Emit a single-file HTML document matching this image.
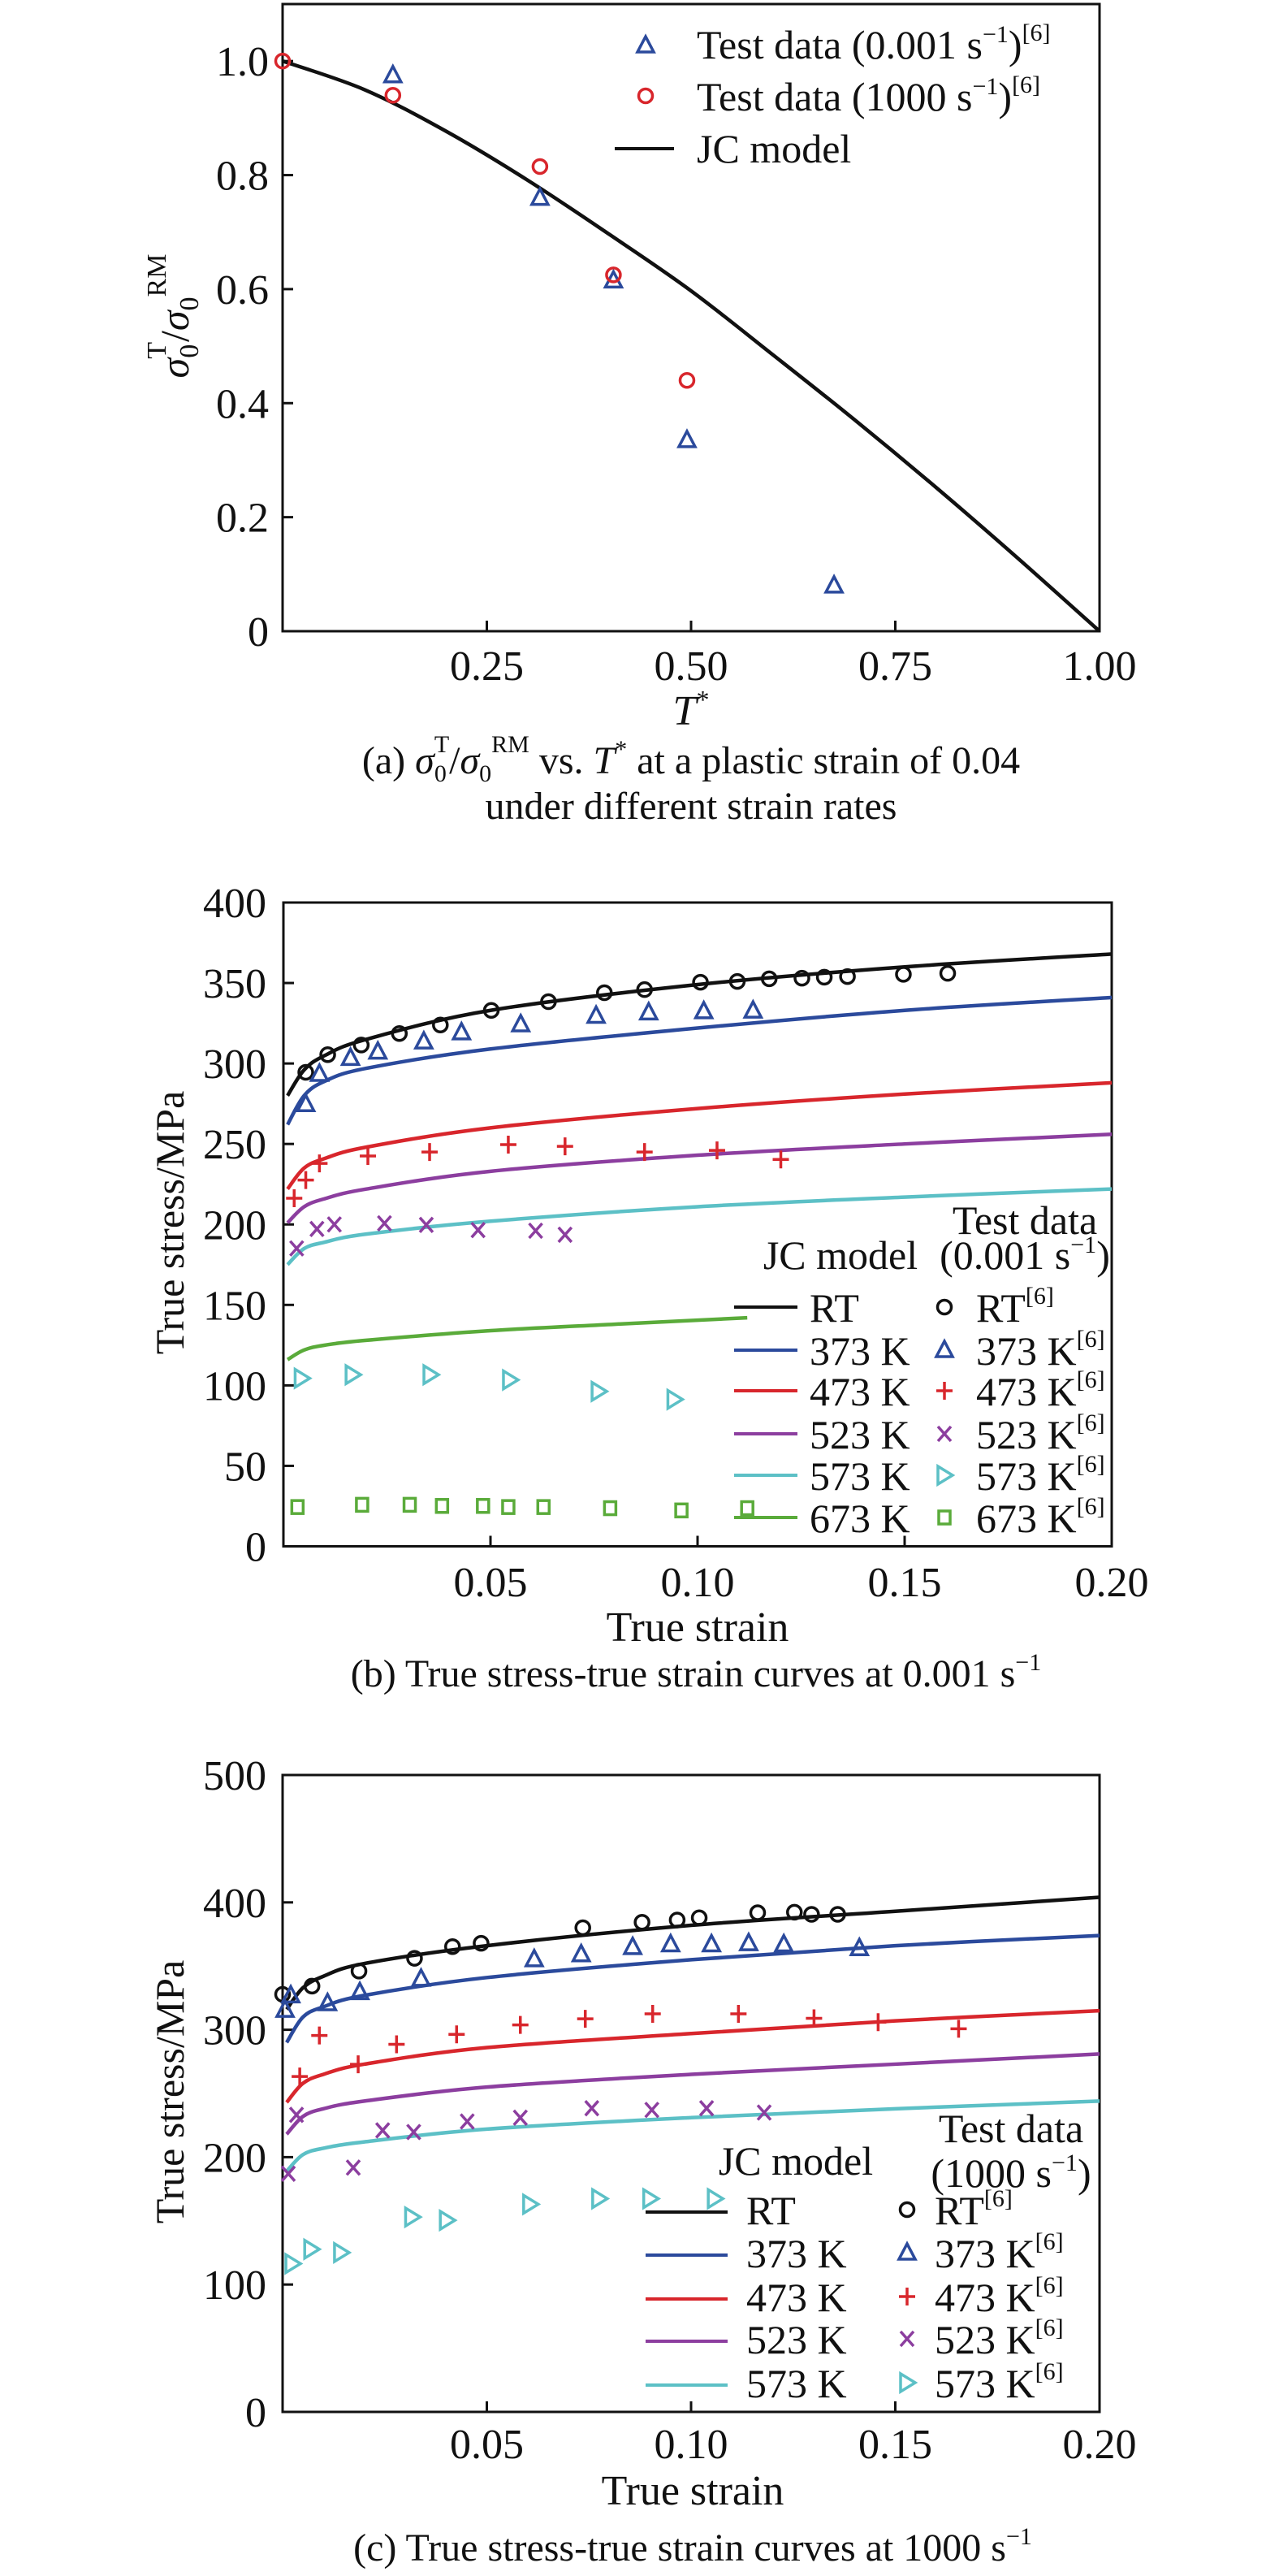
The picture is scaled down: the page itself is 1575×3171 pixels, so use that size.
<!DOCTYPE html>
<html>
<head>
<meta charset="utf-8">
<style>
html,body{margin:0;padding:0;background:#fff;}
svg{display:block;font-family:"Liberation Serif",serif;}
</style>
</head>
<body>
<svg id="fig" width="1575" height="3171" viewBox="0 0 1575 3171" xmlns="http://www.w3.org/2000/svg"></svg>
<script>
// ---------- Chart (a) data ----------
const aTri_T = [0.135, 0.315, 0.405, 0.495, 0.675];
const aTri_V = [0.975, 0.76, 0.615, 0.335, 0.08];
const aCirc_T = [0, 0.135, 0.315, 0.405, 0.495];
const aCirc_V = [1.0, 0.94, 0.815, 0.625, 0.44];
const aJC_T = [0, 0.1, 0.2, 0.3, 0.4, 0.5, 0.6, 0.7, 0.8, 0.9, 1.0];
const aJC_V = [1.0, 0.95, 0.877, 0.791, 0.696, 0.597, 0.485, 0.371, 0.252, 0.128, 0];
const aXTicks = [0.25, 0.5, 0.75, 1.0];
const aXTickLabels = ["0.25", "0.50", "0.75", "1.00"];
const aYTicks = [0, 0.2, 0.4, 0.6, 0.8, 1.0];
const aYTickLabels = ["0", "0.2", "0.4", "0.6", "0.8", "1.0"];

// ---------- Chart (b) data ----------
const bCurveX = [0.001, 0.005, 0.01, 0.02, 0.05, 0.1, 0.15, 0.2];
const bRT_curve = [280, 296, 305, 315, 333, 349, 360, 368];
const b373_curve = [262, 280, 289, 297, 309, 322, 333, 341];
const b473_curve = [222, 235, 241, 248, 260, 272, 281, 288];
const b523_curve = [201, 211, 216, 222, 233, 243, 250, 256];
const b573_curve = [175, 185, 189, 194, 202, 211, 217, 222];
const b673_curveX = [0.001, 0.005, 0.01, 0.02, 0.05, 0.08, 0.112];
const b673_curve = [116, 122, 125, 128, 134, 138, 142];
const bRT_x = [0.0054,0.0107,0.0188,0.028,0.0379,0.0502,0.064,0.0775,0.0872,0.1007,0.1096,0.1173,0.1252,0.1306,0.1362,0.1497,0.1604];
const bRT_y = [294.5,305.5,311.5,318.6,323.9,333,338.4,344,345.9,350.5,351,352.6,353,353.6,354,355.4,356];
const b373_x = [0.0054,0.0087,0.0162,0.0228,0.0339,0.043,0.0573,0.0755,0.0882,0.1015,0.1134];
const b373_y = [274.7,293.5,303.4,307.3,313.6,319.3,324.3,329.6,331.7,332.4,332.8];
const b473_x = [0.0026,0.0054,0.0087,0.0204,0.0353,0.0543,0.068,0.0872,0.1047,0.1201];
const b473_y = [216.3,227.6,237.9,242.5,245,249.6,248.5,245,246,240.4];
const b523_x = [0.0032,0.0081,0.0123,0.0244,0.0345,0.047,0.0609,0.068];
const b523_y = [185.1,197.2,200,200.7,199.7,196.5,196.1,193.6];
const b573_x = [0.0044,0.0167,0.0355,0.0547,0.0761,0.0944];
const b573_y = [104.4,106.6,106.6,103.4,96.3,91.3];
const b673_x = [0.0034,0.019,0.0305,0.0383,0.0482,0.0543,0.0628,0.0789,0.0961,0.112];
const b673_y = [24.4,25.8,25.8,25.1,25.1,24.4,24.4,23.7,22.3,23.7];
const bXTicks = [0.05, 0.1, 0.15, 0.2];
const bXTickLabels = ["0.05", "0.10", "0.15", "0.20"];
const bYTicks = [0, 50, 100, 150, 200, 250, 300, 350, 400];

// ---------- Chart (c) data ----------
const cCurveX = [0.001, 0.005, 0.01, 0.02, 0.05, 0.1, 0.15, 0.2];
const cRT_curve = [316, 333, 342, 352, 366, 382, 393, 404];
const c373_curve = [290, 310, 318, 327, 341, 355, 366, 374];
const c473_curve = [243, 258, 265, 273, 286, 297, 307, 315];
const c523_curve = [218, 232, 238, 244, 255, 265, 273, 281];
const c573_curve = [189, 202, 207, 212, 222, 231, 238, 244];
const cRT_x = [0,0.0072,0.0187,0.0323,0.0416,0.0486,0.0735,0.088,0.0966,0.102,0.1163,0.1253,0.1295,0.1359];
const cRT_y = [327.8,334.3,346.1,356.1,365.3,367.9,380.1,384.4,386.2,387.9,391.9,392.3,390.6,390.6];
const c373_x = [0.0006,0.002,0.011,0.0189,0.0339,0.0616,0.0731,0.0857,0.095,0.105,0.1141,0.1227,0.1412];
const c373_y = [315.6,326.9,320.8,329.5,340,355.3,359.2,364.9,367,367,367.9,367,364];
const c473_x = [0.0042,0.009,0.0185,0.0279,0.0426,0.0582,0.0741,0.0906,0.1116,0.1301,0.1458,0.1655];
const c473_y = [263.3,295.5,272.9,288.6,296.4,303.8,308.6,312.5,312.5,309,306,300.8];
const c523_x = [0.0014,0.0034,0.0173,0.0245,0.0321,0.0452,0.0582,0.0757,0.0904,0.1038,0.1179];
const c523_y = [187,233.2,191.8,221,219.7,228,231,238.4,237.1,238.4,235];
const c573_x = [0.0024,0.007,0.0143,0.0317,0.0402,0.0606,0.0775,0.09,0.1058];
const c573_y = [116.4,127.7,125.1,153,150.4,163,167.4,167.4,167.4];
const cXTicks = [0.05, 0.1, 0.15, 0.2];
const cXTickLabels = ["0.05", "0.10", "0.15", "0.20"];
const cYTicks = [0, 100, 200, 300, 400, 500];

const NS = "http://www.w3.org/2000/svg";
const svg = document.getElementById("fig");
const COL = {k:"#111", blue:"#2b4a9c", red:"#d8262c", purple:"#8c3e9f", cyan:"#5cc0c6", green:"#5aab3a"};

function mk(tag, parent, name, inter) {
  const e = document.createElementNS(NS, tag);
  
  
  parent.appendChild(e);
  return e;
}
function text(parent, name, x, y, str, size, anchor) {
  const t = mk('text', parent, name, false);
  t.setAttribute('x', x); t.setAttribute('y', y);
  t.setAttribute('font-size', size);
  t.setAttribute('text-anchor', anchor || 'start');
  t.setAttribute('fill', '#111');
  t.innerHTML = str;
  return t;
}
function scale(d0, d1, p0, p1) { return v => p0 + (v - d0) / (d1 - d0) * (p1 - p0); }

function axes(g, cfg) {
  const sx = scale(cfg.xmin, cfg.xmax, cfg.x0, cfg.x1);
  const sy = scale(cfg.ymin, cfg.ymax, cfg.yb, cfg.yt);
  const frame = mk('rect', g, 'plot-frame', false);
  frame.setAttribute('x', cfg.x0); frame.setAttribute('y', cfg.yt);
  frame.setAttribute('width', cfg.x1 - cfg.x0); frame.setAttribute('height', cfg.yb - cfg.yt);
  frame.setAttribute('fill', 'none'); frame.setAttribute('stroke', '#111'); frame.setAttribute('stroke-width', 3);
  cfg.xticks.forEach((v, i) => {
    const l = mk('line', g, 'x-tick', false);
    l.setAttribute('x1', sx(v)); l.setAttribute('x2', sx(v));
    l.setAttribute('y1', cfg.yb); l.setAttribute('y2', cfg.yb - 13);
    l.setAttribute('stroke', '#111'); l.setAttribute('stroke-width', 3);
    text(g, 'x-tick-label', sx(v), cfg.xlabY, cfg.xlabels[i], 52, 'middle');
  });
  cfg.yticks.forEach((v, i) => {
    const l = mk('line', g, 'y-tick', false);
    l.setAttribute('x1', cfg.x0); l.setAttribute('x2', cfg.x0 + 13);
    l.setAttribute('y1', sy(v)); l.setAttribute('y2', sy(v));
    l.setAttribute('stroke', '#111'); l.setAttribute('stroke-width', 3);
    text(g, 'y-tick-label', cfg.ylabX, sy(v) + 18, cfg.ylabels[i], 52, 'end');
  });
  return {sx, sy};
}

function smoothPath(pts) {
  let d = `M${pts[0][0]},${pts[0][1]}`;
  for (let i = 0; i < pts.length - 1; i++) {
    const p0 = pts[Math.max(0, i - 1)], p1 = pts[i], p2 = pts[i + 1], p3 = pts[Math.min(pts.length - 1, i + 2)];
    const c1x = p1[0] + (p2[0] - p0[0]) / 6, c1y = p1[1] + (p2[1] - p0[1]) / 6;
    const c2x = p2[0] - (p3[0] - p1[0]) / 6, c2y = p2[1] - (p3[1] - p1[1]) / 6;
    d += ` C${c1x},${c1y} ${c2x},${c2y} ${p2[0]},${p2[1]}`;
  }
  return d;
}
function curve(g, name, xs, ys, sx, sy, color) {
  const p = mk('path', g, name, false);
  p.setAttribute('d', smoothPath(xs.map((x, i) => [sx(x), sy(ys[i])])));
  p.setAttribute('fill', 'none'); p.setAttribute('stroke', color); p.setAttribute('stroke-width', 4.5);
  return p;
}
function marker(g, name, type, cx, cy, color) {
  let e;
  if (type === 'circle') {
    e = mk('circle', g, name, false);
    e.setAttribute('cx', cx); e.setAttribute('cy', cy); e.setAttribute('r', 8.5);
  } else if (type === 'tri') {
    e = mk('polygon', g, name, false);
    e.setAttribute('points', `${cx},${cy-11} ${cx+10},${cy+8} ${cx-10},${cy+8}`);
  } else if (type === 'rtri') {
    e = mk('polygon', g, name, false);
    e.setAttribute('points', `${cx-8},${cy-11} ${cx+10},${cy} ${cx-8},${cy+11}`);
  } else if (type === 'square') {
    e = mk('rect', g, name, false);
    e.setAttribute('x', cx - 7); e.setAttribute('y', cy - 8); e.setAttribute('width', 14); e.setAttribute('height', 16);
  } else if (type === 'plus') {
    e = mk('path', g, name, false);
    e.setAttribute('d', `M${cx-10},${cy}H${cx+10}M${cx},${cy-11}V${cy+11}`);
  } else if (type === 'x') {
    e = mk('path', g, name, false);
    e.setAttribute('d', `M${cx-8},${cy-9}L${cx+8},${cy+9}M${cx+8},${cy-9}L${cx-8},${cy+9}`);
  }
  e.setAttribute('fill', 'none'); e.setAttribute('stroke', color); e.setAttribute('stroke-width', 3.5);
  return e;
}
function scatter(g, name, type, xs, ys, sx, sy, color) {
  xs.forEach((x, i) => marker(g, name, type, sx(x), sy(ys[i]), color));
}
function legLine(g, name, x1, x2, y, color) {
  const l = mk('line', g, name, false);
  l.setAttribute('x1', x1); l.setAttribute('x2', x2); l.setAttribute('y1', y); l.setAttribute('y2', y);
  l.setAttribute('stroke', color); l.setAttribute('stroke-width', 4);
}

// ================= Chart (a) =================
const gA = mk('g', svg, 'chart-a', false);
const A = axes(gA, {x0:348, x1:1354, xmin:0, xmax:1, yb:777, yt:5, ymin:0, ymax:1.1,
  xticks:aXTicks, xlabels:aXTickLabels, yticks:aYTicks, ylabels:aYTickLabels, xlabY:837, ylabX:331});
curve(gA, 'jc-model-curve', aJC_T, aJC_V, A.sx, A.sy, COL.k);
scatter(gA, 'test-0.001-marker', 'tri', aTri_T, aTri_V, A.sx, A.sy, COL.blue);
scatter(gA, 'test-1000-marker', 'circle', aCirc_T, aCirc_V, A.sx, A.sy, COL.red);
text(gA, 'y-axis-title', 0, 0, '<tspan font-style="italic">σ</tspan><tspan font-size="34" dy="12">0</tspan><tspan font-size="34" dx="-18" dy="-40">T</tspan><tspan dy="28">/</tspan><tspan font-style="italic">σ</tspan><tspan font-size="34" dy="12">0</tspan><tspan font-size="34" dy="-40">RM</tspan>', 50, 'middle')
  .setAttribute('transform', 'translate(232,389) rotate(-90)');
text(gA, 'x-axis-title', 851, 892, '<tspan font-style="italic">T</tspan><tspan font-size="32" dy="-20">*</tspan>', 52, 'middle');
marker(gA, 'legend-marker-0.001', 'tri', 795, 56, COL.blue);
text(gA, 'legend-label-0.001', 858, 72, 'Test data (0.001 s<tspan font-size="30" dy="-20">−1</tspan><tspan dy="20">)</tspan><tspan font-size="30" dy="-22">[6]</tspan>', 50);
marker(gA, 'legend-marker-1000', 'circle', 795, 118, COL.red);
text(gA, 'legend-label-1000', 858, 136, 'Test data (1000 s<tspan font-size="30" dy="-20">−1</tspan><tspan dy="20">)</tspan><tspan font-size="30" dy="-22">[6]</tspan>', 50);
legLine(gA, 'legend-line-jc', 757, 830, 183, COL.k);
text(gA, 'legend-label-jc', 858, 200, 'JC model', 50);
text(gA, 'caption-a-line1', 851, 952, '(a) <tspan font-style="italic">σ</tspan><tspan font-size="30" dy="10">0</tspan><tspan font-size="30" dx="-15" dy="-36">T</tspan><tspan dy="26">/</tspan><tspan font-style="italic">σ</tspan><tspan font-size="30" dy="10">0</tspan><tspan font-size="30" dy="-36">RM</tspan><tspan dy="26"> vs. </tspan><tspan font-style="italic">T</tspan><tspan font-size="30" dy="-20">*</tspan><tspan dy="20"> at a plastic strain of 0.04</tspan>', 48, 'middle');
text(gA, 'caption-a-line2', 851, 1008, 'under different strain rates', 48, 'middle');

// ================= Chart (b) =================
const gB = mk('g', svg, 'chart-b', false);
const B = axes(gB, {x0:349, x1:1369, xmin:0, xmax:0.2, yb:1903.5, yt:1111, ymin:0, ymax:400,
  xticks:bXTicks, xlabels:bXTickLabels, yticks:bYTicks, ylabels:bYTicks.map(String), xlabY:1965, ylabX:328});
curve(gB, 'curve-rt', bCurveX, bRT_curve, B.sx, B.sy, COL.k);
curve(gB, 'curve-373k', bCurveX, b373_curve, B.sx, B.sy, COL.blue);
curve(gB, 'curve-473k', bCurveX, b473_curve, B.sx, B.sy, COL.red);
curve(gB, 'curve-523k', bCurveX, b523_curve, B.sx, B.sy, COL.purple);
curve(gB, 'curve-573k', bCurveX, b573_curve, B.sx, B.sy, COL.cyan);
curve(gB, 'curve-673k', b673_curveX, b673_curve, B.sx, B.sy, COL.green);
scatter(gB, 'rt-marker', 'circle', bRT_x, bRT_y, B.sx, B.sy, COL.k);
scatter(gB, '373k-marker', 'tri', b373_x, b373_y, B.sx, B.sy, COL.blue);
scatter(gB, '473k-marker', 'plus', b473_x, b473_y, B.sx, B.sy, COL.red);
scatter(gB, '523k-marker', 'x', b523_x, b523_y, B.sx, B.sy, COL.purple);
scatter(gB, '573k-marker', 'rtri', b573_x, b573_y, B.sx, B.sy, COL.cyan);
scatter(gB, '673k-marker', 'square', b673_x, b673_y, B.sx, B.sy, COL.green);
text(gB, 'y-axis-title', 0, 0, 'True stress/MPa', 50, 'middle').setAttribute('transform', 'translate(226,1505) rotate(-90)');
text(gB, 'x-axis-title', 859, 2020, 'True strain', 52, 'middle');
text(gB, 'caption-b', 857, 2076, '(b) True stress-true strain curves at 0.001 s<tspan font-size="30" dy="-20">−1</tspan>', 48, 'middle');
text(gB, 'legend-title-test', 1262, 1519, 'Test data', 50, 'middle');
text(gB, 'legend-title-test-rate', 1262, 1562, '(0.001 s<tspan font-size="30" dy="-20">−1</tspan><tspan dy="20">)</tspan>', 50, 'middle');
text(gB, 'legend-title-jc', 1035, 1562, 'JC model', 50, 'middle');
const bLeg = [["RT",COL.k,"circle",1609],["373 K",COL.blue,"tri",1662],["473 K",COL.red,"plus",1712],["523 K",COL.purple,"x",1765],["573 K",COL.cyan,"rtri",1816],["673 K",COL.green,"square",1868]];
bLeg.forEach(r => {
  legLine(gB, 'legend-line', 904, 982, r[3], r[1]);
  text(gB, 'legend-label', 997, r[3] + 18, r[0], 50);
  marker(gB, 'legend-marker', r[2], 1163, r[3], r[1]);
  text(gB, 'legend-label', 1202, r[3] + 18, r[0] + '<tspan font-size="30" dy="-22">[6]</tspan>', 50);
});

// ================= Chart (c) =================
const gC = mk('g', svg, 'chart-c', false);
const C = axes(gC, {x0:348, x1:1354, xmin:0, xmax:0.2, yb:2969, yt:2185, ymin:0, ymax:500,
  xticks:cXTicks, xlabels:cXTickLabels, yticks:cYTicks, ylabels:cYTicks.map(String), xlabY:3026, ylabX:328});
curve(gC, 'curve-rt', cCurveX, cRT_curve, C.sx, C.sy, COL.k);
curve(gC, 'curve-373k', cCurveX, c373_curve, C.sx, C.sy, COL.blue);
curve(gC, 'curve-473k', cCurveX, c473_curve, C.sx, C.sy, COL.red);
curve(gC, 'curve-523k', cCurveX, c523_curve, C.sx, C.sy, COL.purple);
curve(gC, 'curve-573k', cCurveX, c573_curve, C.sx, C.sy, COL.cyan);
scatter(gC, 'rt-marker', 'circle', cRT_x, cRT_y, C.sx, C.sy, COL.k);
scatter(gC, '373k-marker', 'tri', c373_x, c373_y, C.sx, C.sy, COL.blue);
scatter(gC, '473k-marker', 'plus', c473_x, c473_y, C.sx, C.sy, COL.red);
scatter(gC, '523k-marker', 'x', c523_x, c523_y, C.sx, C.sy, COL.purple);
scatter(gC, '573k-marker', 'rtri', c573_x, c573_y, C.sx, C.sy, COL.cyan);
text(gC, 'y-axis-title', 0, 0, 'True stress/MPa', 50, 'middle').setAttribute('transform', 'translate(226,2575) rotate(-90)');
text(gC, 'x-axis-title', 853, 3083, 'True strain', 52, 'middle');
text(gC, 'caption-c', 853, 3152, '(c) True stress-true strain curves at 1000 s<tspan font-size="30" dy="-20">−1</tspan>', 48, 'middle');
text(gC, 'legend-title-test', 1245, 2637, 'Test data', 50, 'middle');
text(gC, 'legend-title-test-rate', 1245, 2692, '(1000 s<tspan font-size="30" dy="-20">−1</tspan><tspan dy="20">)</tspan>', 50, 'middle');
text(gC, 'legend-title-jc', 980, 2677, 'JC model', 50, 'middle');
const cLeg = [["RT",COL.k,"circle",2720],["373 K",COL.blue,"tri",2773],["473 K",COL.red,"plus",2827],["523 K",COL.purple,"x",2879],["573 K",COL.cyan,"rtri",2933]];
cLeg.forEach(r => {
  legLine(gC, 'legend-line', 795, 896, r[3] + 3, r[1]);
  text(gC, 'legend-label', 919, r[3] + 18, r[0], 50);
  marker(gC, 'legend-marker', r[2], 1117, r[3], r[1]);
  text(gC, 'legend-label', 1151, r[3] + 18, r[0] + '<tspan font-size="30" dy="-22">[6]</tspan>', 50);
});
</script>
</body>
</html>
